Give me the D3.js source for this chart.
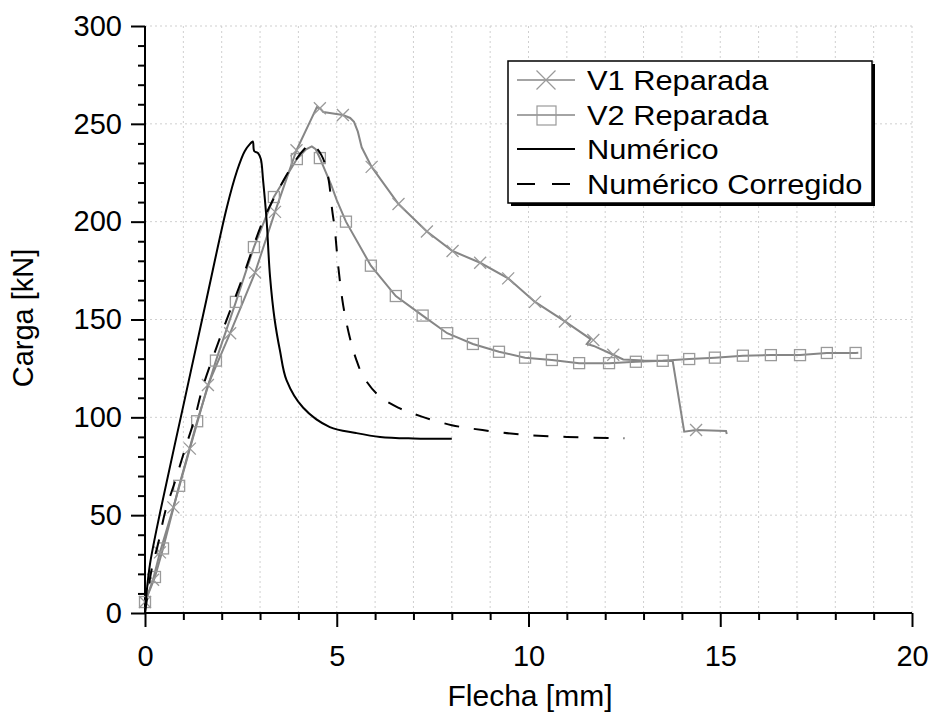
<!DOCTYPE html>
<html>
<head>
<meta charset="utf-8">
<script src="https://cdn.jsdelivr.net/npm/d3@7"></script>
<style>
  body { margin: 0; background: #fff; }
  text { font-family: "Liberation Sans", Arial, sans-serif; fill: #000; }
</style>
</head>
<body>
<div id="chart"></div>
<script>
// data
let xTicks = [0, 5, 10, 15, 20]
let yTicks = [0, 50, 100, 150, 200, 250, 300]

let v1Line = [[0,5.6],[0.21,17],[0.39,31],[0.74,54],[1.17,84],[1.64,116.5],[2.22,143],[2.87,174],
  [3.39,205],[3.95,236.5],[4.3,251],[4.48,258.5],[4.56,258],[4.65,256],[4.82,255.5],[5.16,254.5],
  [5.35,253],[5.45,251],[5.55,246],[5.65,238],[5.91,228],[6.61,209],[7.35,195],[8.02,185],
  [8.74,179],[9.47,171],[10.17,159],[10.95,149],[11.62,140],[11.52,137.5],[11.7,136.5],[12.21,132],
  [12.47,129.6],[13.0,129],[13.76,128.8],[14.06,92.7],[14.37,93.5],[15.15,93],[15.17,91.5]]
let v1Marks = [[0,5.6],[0.21,17],[0.39,31],[0.74,54],[1.17,84],[1.64,116.5],[2.22,143],[2.87,174],
  [3.39,205],[3.95,236.5],[4.56,258],[5.16,254.5],[5.91,228],[6.61,209],[7.35,195],[8.02,185],
  [8.74,179],[9.47,171],[10.17,159],[10.95,149],[11.69,139.5],[12.21,132],[14.37,93.5]]

let v2Line = [[0,5.6],[0.26,18.4],[0.47,33],[0.89,65],[1.36,98],[1.85,129],[2.37,159],[2.84,187],
  [3.36,212.6],[3.96,232],[4.2,237],[4.35,238.5],[4.45,237],[4.56,232.5],[4.7,226],[4.85,219],
  [5.0,211],[5.24,200],[5.89,177.5],[6.54,162],[7.24,152],[7.88,143],[8.55,137.5],[9.23,133.5],
  [9.91,130.5],[10.61,129.3],[11.32,127.7],[12.1,127.7],[12.8,128.4],[13.5,128.9],[14.19,129.8],
  [14.86,130.5],[15.59,131.5],[16.32,131.8],[17.08,131.8],[17.78,132.9],[18.53,132.9],[18.6,133]]
let v2Marks = [[0,5.6],[0.26,18.4],[0.47,33],[0.89,65],[1.36,98],[1.85,129],[2.37,159],[2.84,187],
  [3.36,212.6],[3.96,232],[4.56,232.5],[5.24,200],[5.89,177.5],[6.54,162],[7.24,152],[7.88,143],
  [8.55,137.5],[9.23,133.5],[9.91,130.5],[10.61,129.3],[11.32,127.7],[12.1,127.7],[12.8,128.4],
  [13.5,128.9],[14.19,129.8],[14.86,130.5],[15.59,131.5],[16.32,131.8],[17.08,131.8],[17.78,132.9],
  [18.53,132.9]]

let numerico = [[0,0],[0.04,10],[0.13,25],[0.4,52],[1.0,106],[1.6,160],[2.13,207],[2.4,226],
  [2.6,236],[2.75,240],[2.81,241],[2.85,236],[2.95,235],[3.02,232],[3.08,221],
  [3.17,201],[3.26,172],[3.38,150],[3.52,134],[3.69,119],[4.12,105],[4.82,95],[5.5,92],
  [6.13,90],[7.0,89.2],[8.0,89]]

let corregido = [[0,0],[0.05,7],[0.17,22],[0.35,36],[0.53,52],[0.78,67],[1.03,83],[1.29,99],
  [1.5,115],[2.0,143],[2.52,170],[3.09,201],[3.61,221],[3.95,232],[4.15,237],[4.3,239.5],
  [4.45,238],[4.6,234],[4.72,228],[4.8,220],[4.88,206],[4.95,196],[5.04,177],[5.17,157],
  [5.35,140],[5.5,130],[5.69,121],[6.1,111],[6.6,105],[7.2,100.5],[8.0,96],[8.8,93.5],
  [9.8,91.2],[11.0,90],[12.5,89.3]]

let legendNames = ['V1 Reparada', 'V2 Reparada', 'Numérico', 'Numérico Corregido']

let width = 933
let height = 715
let margin = {top: 26, right: 21, bottom: 102, left: 145}
let gray = '#868686'
let markGray = '#9a9a9a'

let svg = d3.select('#chart').append('svg').attr('width', width).attr('height', height)

let x = d3.scaleLinear().domain([0, 20]).range([margin.left, width - margin.right])
let y = d3.scaleLinear().domain([0, 300]).range([height - margin.bottom, margin.top])

// grid
let grid = svg.append('g').attr('stroke', '#cfcfcf').attr('stroke-width', 1).attr('stroke-dasharray', '2,3')
grid.selectAll('.vg').data(d3.range(1, 21)).enter().append('line')
  .attr('x1', d => x(d)).attr('x2', d => x(d)).attr('y1', y(0)).attr('y2', y(300))
grid.selectAll('.hg').data(d3.range(50, 301, 50)).enter().append('line')
  .attr('x1', x(0)).attr('x2', x(20)).attr('y1', d => y(d)).attr('y2', d => y(d))

// axes
let xAxis = d3.axisBottom(x).tickValues(xTicks).tickSize(14).tickPadding(18).tickFormat(d3.format('d'))
let xMinor = d3.axisBottom(x).tickValues(d3.range(0, 21).filter(d => d % 5 !== 0)).tickSize(7).tickFormat('')
let yAxis = d3.axisLeft(y).tickValues(yTicks).tickSize(14).tickPadding(9).tickFormat(d3.format('d'))
let yMinor = d3.axisLeft(y).tickValues(d3.range(0, 301, 10).filter(d => d % 50 !== 0)).tickSize(7).tickFormat('')

function styleAxis(g) {
  g.selectAll('.domain').remove()
  g.selectAll('line').attr('stroke', '#000').attr('stroke-width', 2)
  g.selectAll('text').style('font-size', '29px').attr('fill', '#000')
}
svg.append('g').attr('transform', 'translate(0,' + y(0) + ')').call(xMinor).call(styleAxis)
svg.append('g').attr('transform', 'translate(0,' + y(0) + ')').call(xAxis).call(styleAxis)
  .selectAll('text').attr('dy', '0.71em')
svg.append('g').attr('transform', 'translate(' + x(0) + ',0)').call(yMinor).call(styleAxis)
svg.append('g').attr('transform', 'translate(' + x(0) + ',0)').call(yAxis).call(styleAxis)

svg.append('line').attr('x1', x(0)).attr('x2', x(20)).attr('y1', y(0)).attr('y2', y(0))
  .attr('stroke', '#000').attr('stroke-width', 2)
svg.append('line').attr('x1', x(0)).attr('x2', x(0)).attr('y1', y(0)).attr('y2', y(300))
  .attr('stroke', '#000').attr('stroke-width', 2)

svg.append('text').attr('x', 530).attr('y', 706).attr('text-anchor', 'middle')
  .style('font-size', '30px').text('Flecha [mm]')
svg.append('text').attr('transform', 'translate(33,' + 318 + ') rotate(-90)').attr('text-anchor', 'middle')
  .style('font-size', '29px').text('Carga [kN]')

// curves
let line = d3.line().x(d => x(d[0])).y(d => y(d[1]))
let smooth = d3.line().x(d => x(d[0])).y(d => y(d[1])).curve(d3.curveCatmullRom.alpha(0.5))

svg.append('path').datum(v1Line).attr('d', line).attr('fill', 'none').attr('stroke', gray).attr('stroke-width', 2)
svg.append('path').datum(v2Line).attr('d', line).attr('fill', 'none').attr('stroke', gray).attr('stroke-width', 2)

function crossPath(s) {
  return 'M' + (-s) + ',' + (-s) + 'L' + s + ',' + s + 'M' + (-s) + ',' + s + 'L' + s + ',' + (-s)
}
svg.append('g').selectAll('path').data(v1Marks).enter().append('path')
  .attr('d', crossPath(6))
  .attr('transform', d => 'translate(' + x(d[0]) + ',' + y(d[1]) + ')')
  .attr('stroke', markGray).attr('stroke-width', 1.3).attr('fill', 'none')
svg.append('g').selectAll('rect').data(v2Marks).enter().append('rect')
  .attr('x', d => x(d[0]) - 5.5).attr('y', d => y(d[1]) - 5.5).attr('width', 11).attr('height', 11)
  .attr('stroke', markGray).attr('stroke-width', 1.3).attr('fill', 'none')

svg.append('path').datum(numerico).attr('d', smooth).attr('fill', 'none').attr('stroke', '#000').attr('stroke-width', 2)
svg.append('path').datum(corregido).attr('d', smooth).attr('fill', 'none').attr('stroke', '#000')
  .attr('stroke-width', 2).attr('stroke-dasharray', '15,15')

// legend
let lg = svg.append('g').attr('transform', 'translate(508,61)')
lg.append('rect').attr('x', 3).attr('y', 3).attr('width', 364).attr('height', 142).attr('fill', '#000')
lg.append('rect').attr('x', 0).attr('y', 0).attr('width', 364).attr('height', 142)
  .attr('fill', '#fff').attr('stroke', '#000').attr('stroke-width', 1.5)
let rowY = [19, 54, 88, 123]
legendNames.forEach((name, i) => {
  let row = lg.append('g').attr('transform', 'translate(0,' + rowY[i] + ')')
  let ln = row.append('line').attr('x1', 9).attr('x2', 67).attr('y1', 0).attr('y2', 0)
    .attr('stroke', i < 2 ? gray : '#000').attr('stroke-width', i < 2 ? 1.5 : 2)
  if (i === 3) ln.attr('stroke-dasharray', '18,17')
  if (i === 0) row.append('path').attr('d', crossPath(9.5)).attr('transform', 'translate(38,0)')
    .attr('stroke', markGray).attr('stroke-width', 1.2).attr('fill', 'none')
  if (i === 1) row.append('rect').attr('x', 29).attr('y', -9).attr('width', 19).attr('height', 19)
    .attr('stroke', markGray).attr('stroke-width', 1.2).attr('fill', 'none')
  row.append('text').attr('x', 79).attr('y', 0).attr('dy', '0.35em')
    .attr('transform', 'scale(1.1,1)').attr('transform-origin', '79 0')
    .style('font-size', '28px').text(name)
})
</script>
</body>
</html>
